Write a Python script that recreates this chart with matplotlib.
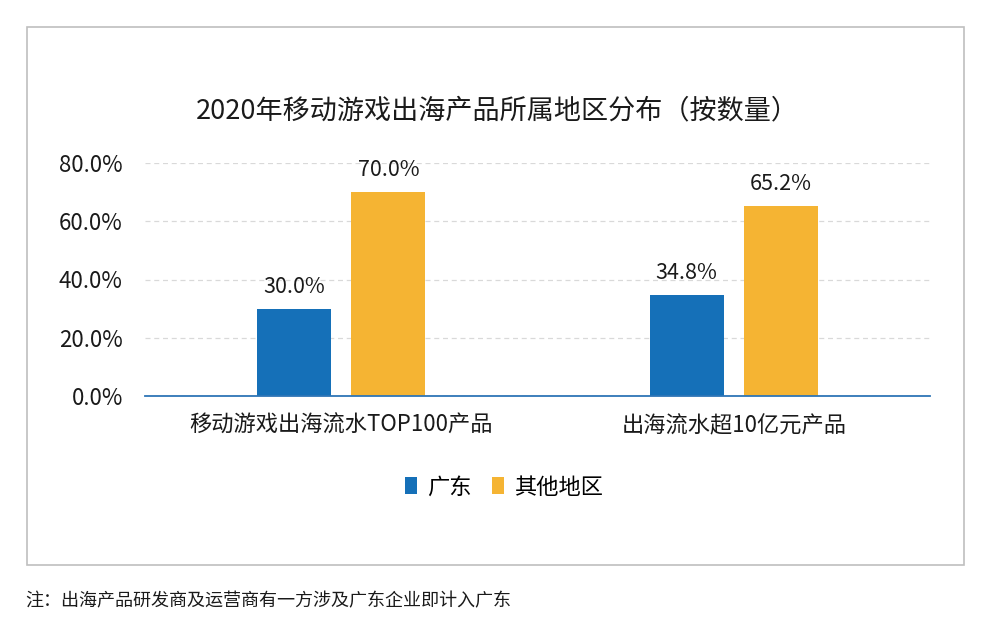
import matplotlib
matplotlib.use('Agg')

from matplotlib import pyplot
from matplotlib.patches import Rectangle
import numpy as np

pyplot.rcParams['font.family'] = ['Noto Sans CJK SC', 'DejaVu Sans']

title = '2020年移动游戏出海产品所属地区分布（按数量）'
categories = ['移动游戏出海流水TOP100产品', '出海流水超10亿元产品']
series_names = ['广东', '其他地区']
guangdong = [0.300, 0.348]
others = [0.700, 0.652]
yticks = [0.0, 0.2, 0.4, 0.6, 0.8]
note = '注：出海产品研发商及运营商有一方涉及广东企业即计入广东'

BLUE = '#1570B8'
ORANGE = '#F5B433'
TEXT = '#1a1a1a'

fig = pyplot.figure(figsize=(9.83, 6.3), dpi=100)
fig.patch.set_facecolor('white')

# outer frame of the chart area
fig.patches.append(Rectangle((27 / 983, 1 - 565 / 630), (964 - 27) / 983, (565 - 27) / 630,
                             transform=fig.transFigure, fill=False,
                             edgecolor='#BFBFBF', linewidth=1.2))

ax = fig.add_axes([145 / 983, 1 - 396 / 630, (930 - 145) / 983, (396 - 163) / 630])

x = np.arange(len(categories))
w = 0.189
off = 0.12
b1 = ax.bar(x - off, guangdong, w, color=BLUE, label=series_names[0], zorder=3)
b2 = ax.bar(x + off, others, w, color=ORANGE, label=series_names[1], zorder=3)

for bars, vals in ((b1, guangdong), (b2, others)):
    for rect, v in zip(bars, vals):
        ax.annotate('%.1f%%' % (v * 100), (rect.get_x() + rect.get_width() / 2, v),
                    xytext=(0, 8), textcoords='offset points', ha='center', va='bottom',
                    fontsize=15.5, color=TEXT)

ax.set_xlim(-0.5, 1.5)
ax.set_ylim(0, 0.8)
ax.set_yticks(yticks)
ax.set_yticklabels(['%.1f%%' % (t * 100) for t in yticks], fontsize=16, color=TEXT)
ax.set_xticks(x)
ax.set_xticklabels(categories, fontsize=16, color=TEXT)
ax.tick_params(axis='both', length=0)
ax.tick_params(axis='y', pad=16)
ax.tick_params(axis='x', pad=13)

for s in ('top', 'right', 'left'):
    ax.spines[s].set_visible(False)
ax.spines['bottom'].set_color('#2E75B6')
ax.spines['bottom'].set_linewidth(1.3)
ax.spines['bottom'].set_zorder(4)

ax.yaxis.grid(True, linestyle=(0, (4, 3)), color='#D9D9D9', linewidth=0.9, zorder=0)
ax.set_axisbelow(True)

fig.text(497 / 983, 1 - 111 / 630, title, ha='center', va='center', fontsize=19.5, color=TEXT)

fig.legend(handles=[b1, b2], labels=series_names, loc='center', bbox_to_anchor=(504 / 983, 1 - 487 / 630),
           ncol=2, frameon=False, fontsize=16, handlelength=0.55, handleheight=0.8,
           handletextpad=0.45, columnspacing=0.9)

fig.text(25 / 983, 1 - 601 / 630, note, ha='left', va='center', fontsize=13,
         style='italic', color=TEXT)

pyplot.savefig('out.png', dpi=100)
pyplot.close()
